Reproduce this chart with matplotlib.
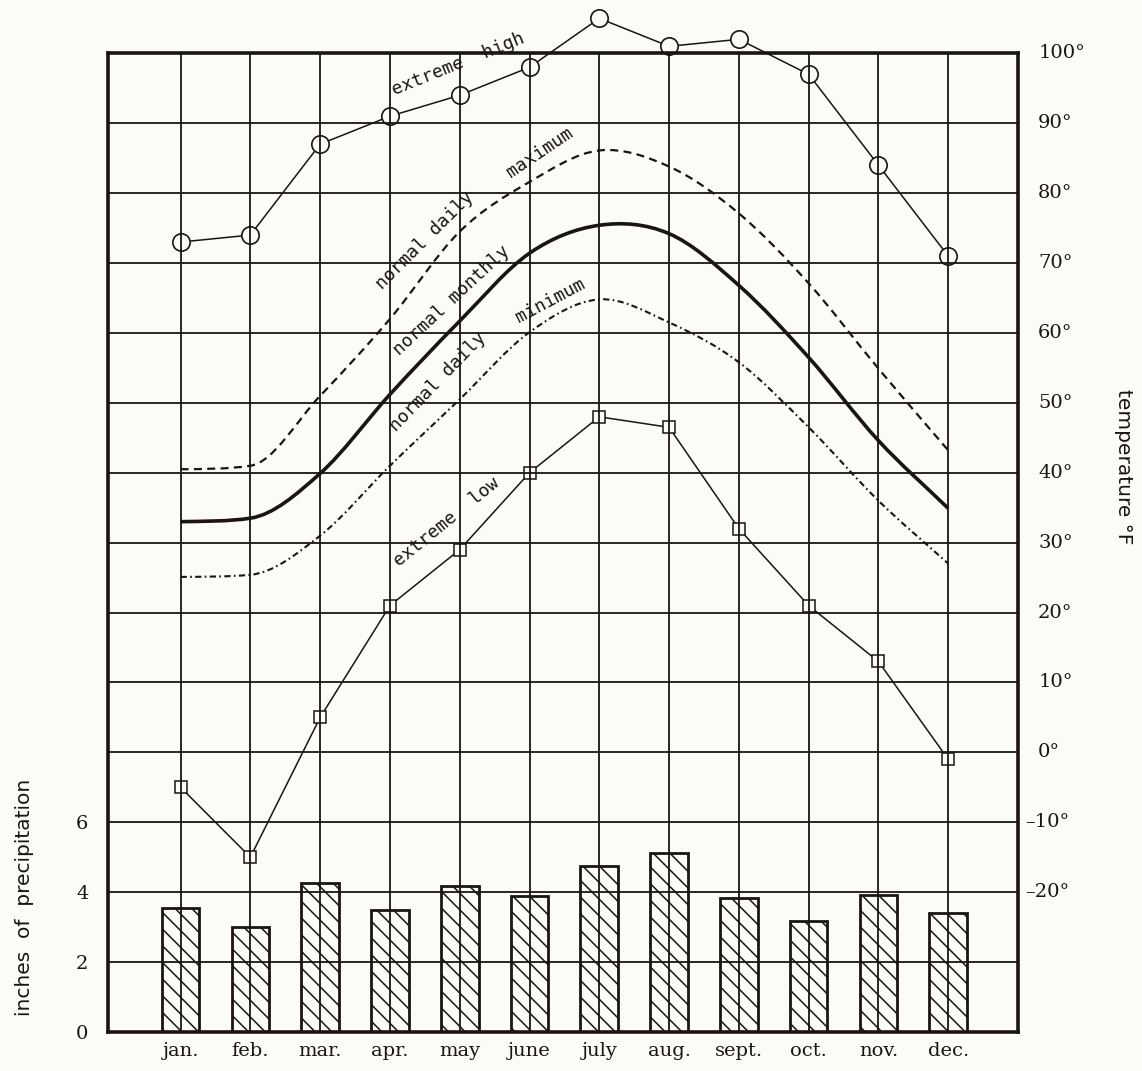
import matplotlib
matplotlib.use('Agg')
import matplotlib.pyplot as plt
import numpy as np
from matplotlib.path import Path
from matplotlib.patches import PathPatch
import matplotlib.transforms as mtransforms

# ---------------- data ----------------
months = ['jan.', 'feb.', 'mar.', 'apr.', 'may', 'june', 'july', 'aug.',
          'sept.', 'oct.', 'nov.', 'dec.']
extreme_high = [73, 74, 87, 91, 94, 98, 105, 101, 102, 97, 84, 71]
extreme_low = [-5, -15, 5, 21, 29, 40, 48, 46.5, 32, 21, 13, -1]
normal_daily_max = [40.5, 41, 51, 62, 74.5, 81.6, 86.1, 83.8, 77.1, 67.1, 54.9, 43.2]
normal_monthly = [33, 33.5, 39.9, 51.2, 61.7, 71.4, 75.4, 74.2, 66.8, 56.5, 44.6, 34.9]
normal_daily_min = [25.1, 25.4, 31, 41, 50.5, 60.1, 64.8, 61.5, 55.8, 46.5, 36, 27]
precipitation = [3.54, 3.0, 4.25, 3.5, 4.19, 3.88, 4.74, 5.12, 3.83, 3.18, 3.91, 3.40]

temp_tick_values = [100, 90, 80, 70, 60, 50, 40, 30, 20, 10, 0, -10, -20]
temp_tick_labels = ['100°', '90°', '80°', '70°', '60°', '50°', '40°', '30°',
                    '20°', '10°', '0°', '–10°', '–20°']
precip_tick_values = [0, 2, 4, 6]
precip_tick_labels = ['0', '2', '4', '6']

# curve labels: (text, x, y, angle)
curve_labels = [
    ('extreme  high', 4.03, 97.1, 22),
    ('normal daily', 3.6, 72.3, 45),
    ('maximum', 5.23, 84.6, 34),
    ('normal monthly', 3.98, 63.6, 43),
    ('normal daily', 3.78, 52.0, 46),
    ('minimum', 5.36, 63.4, 28),
    ('extreme  low', 3.9, 31.8, 39),
]

# ---------------- style ----------------
BG = '#fbfbf7'
INK = '#1b1414'
plt.rcParams['hatch.color'] = INK
plt.rcParams['hatch.linewidth'] = 1.1

W, H = 1142, 1071
L, R, T, B = 108, 1018, 53.3, 1032

fig = plt.figure(figsize=(W / 100, H / 100), dpi=100, facecolor=BG)
ax = fig.add_axes([L / W, (H - B) / H, (R - L) / W, (B - T) / H])
ax.set_facecolor(BG)
x = np.arange(len(months))
ax.set_xlim(-1.04, 12.0)
ax.set_ylim(-40, 100)

ax.set_xticks(x)
ax.set_xticklabels(months, fontfamily='DejaVu Serif', fontsize=14, color=INK)
ax.tick_params(axis='x', length=0, pad=7)
ax.set_yticks(np.arange(-30, 100, 10))
ax.yaxis.tick_right()
ax.set_yticklabels([])
ax.tick_params(axis='y', length=0)
ax.grid(True, color=INK, lw=1.3)
ax.set_axisbelow(False)
for s in ax.spines.values():
    s.set_linewidth(2.6)
    s.set_color(INK)


def smooth_path(xs, ys):
    """Smooth Bezier path through the points (limited central-difference tangents)."""
    xs = np.asarray(xs, float)
    ys = np.asarray(ys, float)
    h = np.diff(xs)
    d = np.diff(ys) / h
    n = len(xs)
    m = np.zeros(n)
    m[0] = d[0]
    m[-1] = d[-1]
    for i in range(1, n - 1):
        m[i] = 0.5 * (d[i - 1] + d[i])
    for i in range(n - 1):
        if d[i] == 0:
            continue
        a = m[i] / d[i]
        b = m[i + 1] / d[i]
        if a > 0 and b > 0 and a * a + b * b > 9:
            tau = 3.0 / np.sqrt(a * a + b * b)
            m[i] = tau * a * d[i]
            m[i + 1] = tau * b * d[i]
    verts = [(xs[0], ys[0])]
    codes = [Path.MOVETO]
    for i in range(n - 1):
        dx = h[i] / 3.0
        verts += [(xs[i] + dx, ys[i] + m[i] * dx),
                  (xs[i + 1] - dx, ys[i + 1] - m[i + 1] * dx),
                  (xs[i + 1], ys[i + 1])]
        codes += [Path.CURVE4] * 3
    return Path(verts, codes)


ax.add_patch(PathPatch(smooth_path(x, normal_daily_max), fill=False, edgecolor=INK,
                       lw=1.6, linestyle=(0, (3.6, 2.4)), zorder=2))
ax.add_patch(PathPatch(smooth_path(x, normal_monthly), fill=False, edgecolor=INK,
                       lw=2.6, zorder=2))
ax.add_patch(PathPatch(smooth_path(x, normal_daily_min), fill=False, edgecolor=INK,
                       lw=1.5, linestyle=(0, (3.0, 1.6, 0.8, 1.6)), zorder=2))

ax.plot(x, extreme_high, color=INK, lw=1.1, marker='o', ms=12.5, mfc=BG,
        mec=INK, mew=1.2, clip_on=False, zorder=2)
ax.plot(x, extreme_low, color=INK, lw=1.1, marker='s', ms=8.5, mfc=BG,
        mec=INK, mew=1.1, clip_on=False, zorder=2)

for txt, tx, ty, ang in curve_labels:
    off = 7.0
    tr = mtransforms.offset_copy(ax.transData, fig=fig,
                                 x=-off * np.sin(np.radians(ang)),
                                 y=off * np.cos(np.radians(ang)), units='points')
    ax.text(tx, ty, txt, transform=tr, rotation=ang, rotation_mode='anchor',
            ha='center', va='center', fontfamily='DejaVu Sans Mono',
            fontsize=13, color=INK, zorder=3)

# temperature labels on the right
blend = mtransforms.blended_transform_factory(ax.transAxes, ax.transData)
for v, lab in zip(temp_tick_values, temp_tick_labels):
    dx = 5 if v < 0 else 14.5
    tr = mtransforms.offset_copy(blend, fig=fig, x=dx, y=0, units='points')
    ax.text(1.0, v, lab, transform=tr, ha='left', va='center',
            fontfamily='DejaVu Serif', fontsize=14, color=INK, clip_on=False)

# precipitation bars on twin axis
axp = ax.twinx()
axp.set_ylim(0, 28)
axp.yaxis.tick_left()
axp.set_yticks(precip_tick_values)
axp.set_yticklabels(precip_tick_labels, fontfamily='DejaVu Serif', fontsize=14,
                    color=INK)
axp.tick_params(axis='y', length=0, pad=14)
for s in axp.spines.values():
    s.set_visible(False)
axp.bar(x, precipitation, width=0.54, facecolor='none', edgecolor=INK,
        lw=2.0, hatch='\\\\', zorder=2)

fig.text(25 / W, (H - 897) / H, 'inches  of  precipitation', rotation=90,
         ha='center', va='center', fontfamily='DejaVu Sans', fontsize=14.5,
         color=INK)
fig.text(1123 / W, (H - 467) / H, 'temperature °F', rotation=270,
         ha='center', va='center', fontfamily='DejaVu Sans', fontsize=14.5,
         color=INK)

fig.savefig('out.png', dpi=100, facecolor=BG)
